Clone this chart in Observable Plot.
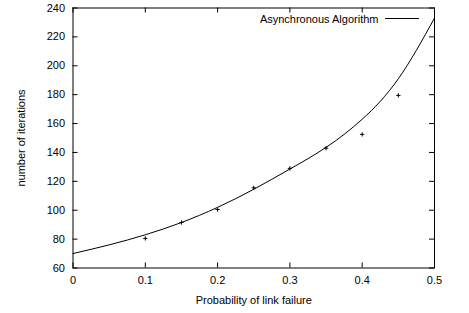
<!DOCTYPE html>
<html>
<head>
<meta charset="utf-8">
<script src="https://cdn.jsdelivr.net/npm/d3@7"></script>
<script src="https://cdn.jsdelivr.net/npm/@observablehq/plot@0.6"></script>
<style>
  html, body { margin: 0; padding: 0; background: #fff; }
  #chart svg { display: block; }
</style>
</head>
<body>
<div id="chart"></div>
<script>
// Measured points
const probs = [0.1, 0.15, 0.2, 0.25, 0.3, 0.35, 0.4, 0.45];
const iters = [80.5, 91.5, 100.5, 115.5, 129, 143, 152.5, 179.5];
// Fitted curve
const curveX = [0, 0.05, 0.1, 0.15, 0.2, 0.25, 0.3, 0.35, 0.4, 0.45, 0.5];
const curveY = [70, 76, 83, 91.5, 102, 114.5, 128.5, 143.5, 163, 191, 233];
// Ticks
const xTicks = [0, 0.1, 0.2, 0.3, 0.4, 0.5];
const yTicks = [60, 80, 100, 120, 140, 160, 180, 200, 220, 240];
const seriesName = "Asynchronous Algorithm";
const xLabel = "Probability of link failure";
const yLabel = "number of iterations";

const points = probs.map((p, i) => ({p, v: iters[i]}));
const curve = curveX.map((x, i) => ({x, y: curveY[i]}));

const W = 469, H = 313;
const mL = 72.5, mR = 35, mT = 7.5, mB = 45.5;
const innerH = H - mT - mB, innerW = W - mL - mR;
const tl = 5;

const chart = Plot.plot({
  width: W, height: H,
  marginLeft: mL, marginRight: mR, marginTop: mT, marginBottom: mB,
  style: {fontFamily: "'Liberation Sans', Arial, Helvetica, sans-serif", fontSize: "11px", color: "#000", background: "#fff"},
  x: {domain: [0, 0.5]},
  y: {domain: [60, 240]},
  marks: [
    Plot.axisX(xTicks, {tickSize: 0, tickPadding: 8, tickFormat: d => String(d), label: null, fontSize: 11}),
    Plot.axisY(yTicks, {tickSize: 0, tickPadding: 8, tickFormat: d => String(d), label: null, fontSize: 11}),
    // inward ticks on all four sides
    Plot.tickX(xTicks, {x: d => d, insetTop: innerH - tl, stroke: "#000"}),
    Plot.tickX(xTicks, {x: d => d, insetBottom: innerH - tl, stroke: "#000"}),
    Plot.tickY(yTicks, {y: d => d, insetRight: innerW - tl, stroke: "#000"}),
    Plot.tickY(yTicks, {y: d => d, insetLeft: innerW - tl, stroke: "#000"}),
    Plot.line(curve, {x: "x", y: "y", curve: "natural", stroke: "#000", strokeWidth: 1}),
    Plot.dot(points, {x: "p", y: "v", symbol: "plus", r: 1.5, stroke: "#000", strokeWidth: 1}),
    Plot.frame({stroke: "#000", strokeWidth: 1}),
    Plot.text([xLabel], {frameAnchor: "bottom", dy: 32, text: d => d, fontSize: 11, lineAnchor: "middle"}),
    Plot.text([yLabel], {frameAnchor: "left", dx: -52, rotate: -90, textAnchor: "middle", text: d => d, fontSize: 11}),
    Plot.text([seriesName], {frameAnchor: "top-right", dx: -56, dy: 11, textAnchor: "end", text: d => d, fontSize: 11, lineAnchor: "middle"})
  ]
});

// legend line sample
d3.select(chart).append("line")
  .attr("x1", W - mR - 49).attr("x2", W - mR - 15)
  .attr("y1", mT + 11).attr("y2", mT + 11)
  .attr("stroke", "#000").attr("stroke-width", 1);

document.getElementById("chart").appendChild(chart);
</script>
</body>
</html>
